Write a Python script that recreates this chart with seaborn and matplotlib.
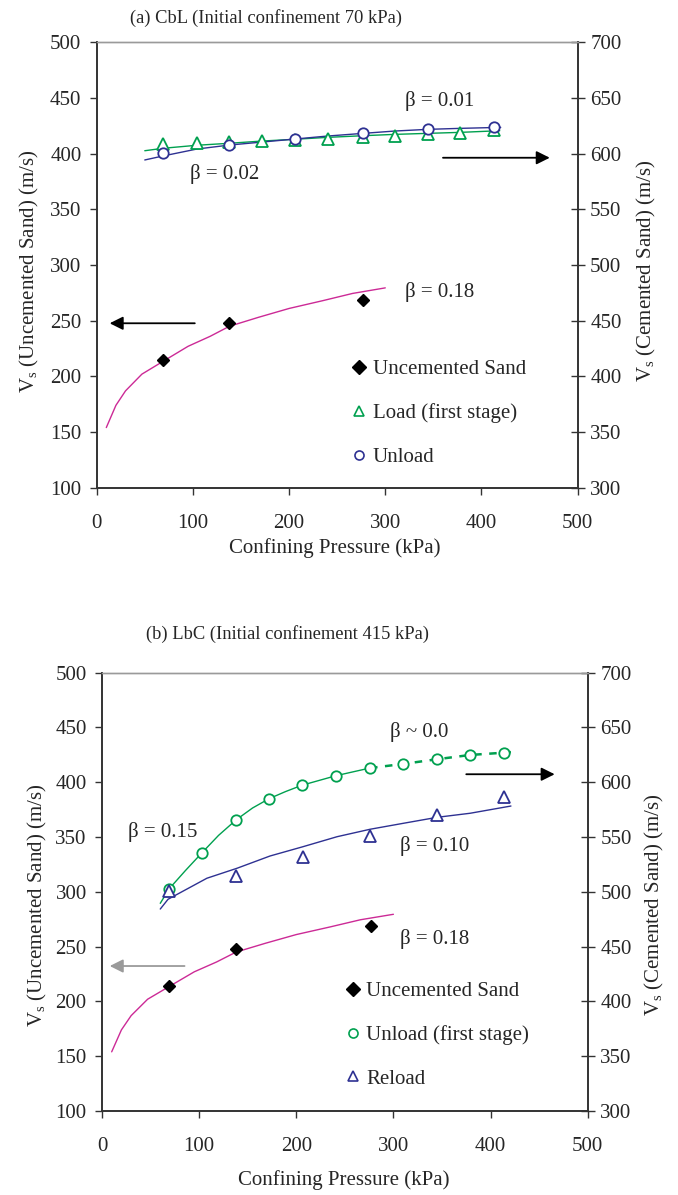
import matplotlib
matplotlib.use("Agg")
import matplotlib.pyplot as plt
from matplotlib.lines import Line2D
import seaborn as sns
import pandas as pd

# ---------------- data ----------------
# Uncemented sand (same in both panels), left axis (m/s)
unc_p = [69, 138, 277]
unc_v = [214.5, 247.5, 268.5]
unc_fit_p = [10, 20, 30, 47, 69, 95, 118, 138, 168, 200, 235, 266, 300]
unc_fit_v = [154, 174, 187, 202, 213.5, 227, 236, 245, 253, 261, 268, 274.5, 279.5]

# Panel (a) CbL, cemented sand, right axis (m/s)
a_load_p = [69, 104, 138, 172, 206, 240, 277, 310, 344, 378, 413]
a_load_v = [608.5, 609.5, 610.5, 611.5, 612, 613, 615, 616, 617.5, 619, 621]
a_load_fit_p = [50, 69, 104, 138, 172, 206, 240, 277, 310, 344, 378, 419]
a_load_fit_v = [602.7, 604.9, 607.6, 609.4, 611.4, 613, 614.7, 616.2, 617.4, 618.3, 619.2, 620.7]
a_unload_p = [69, 138, 206, 277, 344, 413]
a_unload_v = [601, 607.6, 613, 619, 622.5, 624.3]
a_unload_fit_p = [50, 69, 104, 138, 172, 206, 240, 277, 310, 344, 378, 420]
a_unload_fit_v = [594.4, 598, 604.2, 607.8, 610.5, 613.2, 615.9, 618.3, 620.4, 621.9, 622.8, 623.7]

# Panel (b) LbC, cemented sand, right axis (m/s)
b_unload_p = [69, 103, 138, 172, 206, 241, 276, 310, 345, 379, 414]
b_unload_v = [502.6, 535.7, 565.6, 585, 597.3, 606, 613, 616.7, 621, 624.9, 627]
b_unload_fit_p = [60, 69, 86, 103, 120, 138, 155, 172, 189, 206, 241, 276]
b_unload_fit_v = [489.5, 502.6, 519.5, 535.7, 551.5, 565.6, 576.5, 585, 591.5, 597.3, 606, 613]
b_unload_dash_p = [276, 310, 345, 379, 414, 421]
b_unload_dash_v = [613, 616.7, 621, 624.9, 627, 627.5]
b_reload_p = [69, 138, 207, 276, 345, 414]
b_reload_v = [501, 514.5, 531.5, 551.2, 569.8, 586.8]
b_reload_fit_p = [60, 68, 108, 139, 173, 207, 242, 276, 310, 345, 379, 421]
b_reload_fit_v = [484.3, 493.2, 512.4, 521.5, 532.7, 541.2, 550.3, 557.1, 562.5, 568, 571.7, 578.3]

x_ticks = [0, 100, 200, 300, 400, 500]
left_ticks = [100, 150, 200, 250, 300, 350, 400, 450, 500]
right_ticks = [300, 350, 400, 450, 500, 550, 600, 650, 700]

titles = ["(a) CbL (Initial confinement 70 kPa)", "(b) LbC (Initial confinement 415 kPa)"]
xlabel = "Confining Pressure (kPa)"
ylabel_left = r"V$_{\mathrm{s}}$ (Uncemented Sand) (m/s)"
ylabel_right = r"V$_{\mathrm{s}}$ (Cemented Sand) (m/s)"

# ---------------- style ----------------
sns.set_theme(style="ticks")
plt.rcParams["font.family"] = ["Liberation Serif", "DejaVu Serif"]
plt.rcParams["mathtext.fontset"] = "custom"
plt.rcParams["mathtext.rm"] = "Liberation Serif"
plt.rcParams["mathtext.it"] = "Liberation Serif:italic"

GREEN = "#00a04f"
BLUE = "#2e3192"
PINK = "#cc2a96"
DARK = "#333333"
FS = 15

fig = plt.figure(figsize=(6.78, 11.95), dpi=100)


def style_axes(ax, ax2):
    ax.set_xlim(0, 500)
    ax.set_ylim(100, 500)
    ax2.set_ylim(300, 700)
    ax.set_xticks(x_ticks)
    ax.set_yticks(left_ticks)
    ax2.set_yticks(right_ticks)
    for a in (ax, ax2):
        for s in ("left", "bottom", "right"):
            a.spines[s].set_color(DARK)
            a.spines[s].set_linewidth(1.2)
        a.spines["top"].set_color("#9a9a9a")
        a.spines["top"].set_linewidth(1.0)
    ax.tick_params(axis="x", direction="out", length=5, width=1, color=DARK,
                   labelsize=FS, pad=14)
    ax.tick_params(axis="y", direction="out", length=5, width=1, color=DARK,
                   labelsize=FS, pad=6)
    ax2.tick_params(axis="y", direction="inout", length=10, width=1, color=DARK,
                    labelsize=FS, pad=4)
    ax.set_xlabel(xlabel, fontsize=FS)
    ax.xaxis.label.set_verticalalignment("center")
    ax.set_ylabel(ylabel_left, fontsize=FS)
    ax2.set_ylabel(ylabel_right, fontsize=FS, rotation=90)


def line(ax, p, v, color, ls="-", lw=1.0):
    sns.lineplot(x=p, y=v, ax=ax, color=color, lw=lw, sort=False,
                 estimator=None, linestyle=ls)


def pts(ax, p, v, marker, color, size):
    ax.plot(p, v, linestyle="none", marker=marker, ms=size, mfc="white",
            mec=color, mew=1.3)


def arrow(ax, tail, tip, color):
    ax.annotate("", xy=tip, xytext=tail,
                arrowprops=dict(arrowstyle="-|>", color=color, lw=1.3,
                                mutation_scale=20, shrinkA=0, shrinkB=0))


LEG_KW = dict(loc="center left", frameon=False, fontsize=FS, borderpad=0,
              borderaxespad=0, handlelength=1.0, handletextpad=0.15,
              labelspacing=1.15)

# ---------------- panel (a) ----------------
axa = fig.add_axes([0.1426, 0.5919, 0.7094, 0.3726])
axa2 = axa.twinx()
style_axes(axa, axa2)

line(axa, unc_fit_p, unc_fit_v, PINK)
axa.plot(unc_p, unc_v, linestyle="none", marker="D", ms=6.5, color="black")
line(axa2, a_load_fit_p, a_load_fit_v, GREEN)
line(axa2, a_unload_fit_p, a_unload_fit_v, BLUE)
pts(axa2, a_load_p, a_load_v, "^", GREEN, 9)
pts(axa2, a_unload_p, a_unload_v, "o", BLUE, 7.5)

arrow(axa, (102, 247.7), (13.5, 247.7), "black")
arrow(axa, (360, 396.4), (471, 396.4), "black")
axa.text(320.5, 447.6, "β = 0.01", fontsize=FS, va="center", ha="left")
axa.text(97, 381.8, "β = 0.02", fontsize=FS, va="center", ha="left")
axa.text(320.5, 276, "β = 0.18", fontsize=FS, va="center", ha="left")

handles_a = [
    Line2D([], [], ls="none", marker="D", ms=7, color="black"),
    Line2D([], [], ls="none", marker="^", ms=7, mfc="white", mec=GREEN, mew=1.2),
    Line2D([], [], ls="none", marker="o", ms=6.5, mfc="white", mec=BLUE, mew=1.2),
]
axa2.legend(handles_a, ["Uncemented Sand", "Load (first stage)", "Unload"],
            bbox_to_anchor=(0.524, 0.167), **LEG_KW)
axa.yaxis.set_label_coords(-0.116, 0.487)
axa2.yaxis.set_label_coords(1.12, 0.487)
axa.xaxis.set_label_coords(0.495, -0.135)
fig.text(266 / 678, 1 - 18 / 1195, titles[0], fontsize=13.3, ha="center", va="center")

# ---------------- panel (b) ----------------
axb = fig.add_axes([0.1504, 0.0703, 0.7164, 0.3668])
axb2 = axb.twinx()
style_axes(axb, axb2)

line(axb, unc_fit_p, unc_fit_v, PINK)
axb.plot(unc_p, unc_v, linestyle="none", marker="D", ms=6.5, color="black")
line(axb2, b_unload_fit_p, b_unload_fit_v, GREEN)
line(axb2, b_unload_dash_p, b_unload_dash_v, GREEN, ls=(0, (3, 3)), lw=1.8)
line(axb2, b_reload_fit_p, b_reload_fit_v, BLUE)
pts(axb2, b_unload_p, b_unload_v, "o", GREEN, 7.5)
pts(axb2, b_reload_p, b_reload_v, "^", BLUE, 9)

arrow(axb, (85, 232.3), (8, 232.3), "#9a9a9a")
arrow(axb, (375, 407.3), (466, 407.3), "black")
axb.text(297, 446, "β ~ 0.0", fontsize=FS, va="center", ha="left")
axb.text(27, 355, "β = 0.15", fontsize=FS, va="center", ha="left")
axb.text(307, 342, "β = 0.10", fontsize=FS, va="center", ha="left")
axb.text(307, 256.7, "β = 0.18", fontsize=FS, va="center", ha="left")

handles_b = [
    Line2D([], [], ls="none", marker="D", ms=7, color="black"),
    Line2D([], [], ls="none", marker="o", ms=6.5, mfc="white", mec=GREEN, mew=1.2),
    Line2D([], [], ls="none", marker="^", ms=7, mfc="white", mec=BLUE, mew=1.2),
]
axb2.legend(handles_b, ["Uncemented Sand", "Unload (first stage)", "Reload"],
            bbox_to_anchor=(0.495, 0.173), **LEG_KW)
axb.yaxis.set_label_coords(-0.11, 0.47)
axb2.yaxis.set_label_coords(1.113, 0.47)
axb.xaxis.set_label_coords(0.497, -0.157)
fig.text(288 / 678, 1 - 634 / 1195, titles[1], fontsize=13.3, ha="center", va="center")

fig.savefig("out.png", dpi=100)
